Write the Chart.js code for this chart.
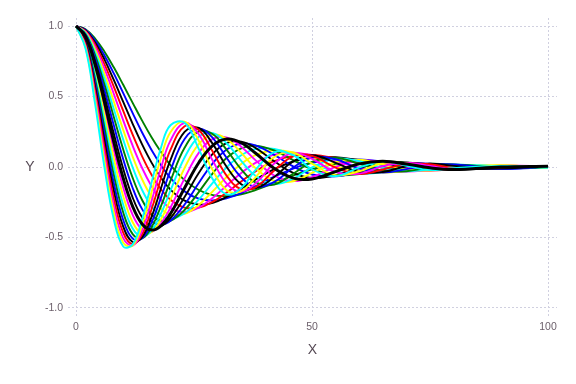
<!DOCTYPE html>
<html><head><meta charset="utf-8">
<script src="https://cdn.jsdelivr.net/npm/chart.js@4.4.1/dist/chart.umd.min.js"></script>
<style>html,body{margin:0;padding:0;background:#fff}#wrap{width:576px;height:384px;position:relative}</style>
</head><body><div id="wrap"><canvas id="c" width="576" height="384"></canvas></div>
<script>
const xs = [0,2,4,6,8,10,12,14,16,18,20,23,26,29,32,35,38,42,46,50,55,60,65,70,75,80,90,100];
const xTicks = [0,50,100];
const yTicks = [-1,-0.5,0,0.5,1];

const c01 = [1,.842,.456,.001,-.371,-.564,-.549,-.371,-.110,.137,.296,.314,.129,-.089,-.195,-.150,-.022,.105,.084,-.016,-.065,-.003,.039,.009,-.022,-.009,.008,-.006];
const c02 = [1,.852,.487,.048,-.325,-.537,-.557,-.413,-.179,.066,.247,.322,.186,-.025,-.166,-.172,-.074,.071,.101,.024,-.058,-.030,.028,.025,-.010,-.018,.011,-.006];
const c03 = [1,.861,.516,.096,-.274,-.504,-.557,-.451,-.242,-.007,.187,.313,.232,.042,-.122,-.175,-.118,.025,.098,.058,-.036,-.047,.006,.031,.007,-.016,.007,-.001];
const c04 = [1,.870,.546,.143,-.222,-.466,-.548,-.478,-.300,-.080,.121,.289,.263,.106,-.066,-.158,-.144,-.025,.076,.079,-.004,-.050,-.018,.023,.020,-.006,-.002,.005];
const c05 = [1,.879,.574,.190,-.169,-.423,-.532,-.497,-.354,-.151,.049,.250,.277,.162,-.003,-.123,-.152,-.071,.040,.083,.030,-.036,-.035,.005,.024,.008,-.010,.007];
const c06 = [1,.887,.602,.237,-.113,-.376,-.508,-.506,-.395,-.217,-.025,.199,.274,.205,.060,-.074,-.140,-.106,-.004,.067,.055,-.011,-.039,-.015,.016,.018,-.011,.003];
const c07 = [1,.896,.629,.283,-.056,-.323,-.476,-.506,-.427,-.277,-.099,.136,.253,.232,.118,-.016,-.109,-.124,-.048,.036,.065,.023,-.026,-.030,-.003,.016,-.004,-.003];
const c08 = [1,.903,.656,.330,.002,-.268,-.437,-.495,-.450,-.330,-.168,.067,.215,.240,.165,.044,-.062,-.121,-.083,-.003,.058,.041,-.007,-.030,-.016,.007,.006,-.007];
const c09 = [1,.911,.681,.375,.061,-.207,-.392,-.475,-.461,-.371,-.232,-.007,.163,.230,.196,.100,-.007,-.099,-.101,-.042,.034,.051,.018,-.018,-.024,-.007,.011,-.005];
const c10 = [1,.918,.706,.420,.120,-.145,-.340,-.444,-.460,-.400,-.289,-.081,.100,.200,.208,.144,.049,-.060,-.100,-.072,.001,.044,.035,.002,-.020,-.017,.009,.001];
const thick = [1,.925,.730,.464,.179,-.080,-.280,-.404,-.447,-.417,-.332,-.149,.030,.154,.199,.172,.099,-.011,-.079,-.085,-.033,.022,.040,.021,-.006,-.018,.000,.006];
const c12 = [1,.932,.753,.506,.238,-.013,-.217,-.356,-.422,-.420,-.363,-.213,-.043,.095,.171,.180,.136,.041,-.042,-.078,-.058,-.007,.029,.031,.011,-.008,-.009,.006];
const c13 = [1,.938,.775,.548,.296,.055,-.149,-.299,-.385,-.409,-.381,-.266,-.114,.028,.126,.166,.154,.086,.004,-.053,-.066,-.034,.007,.027,.023,.006,-.011,.000];
const c14 = [1,.944,.796,.588,.354,.124,-.077,-.234,-.337,-.385,-.382,-.305,-.178,-.043,.067,.133,.151,.117,.049,-.015,-.056,-.050,-.018,.011,.023,.017,-.006,-.006];
const c15 = [1,.950,.816,.627,.411,.194,-.003,-.163,-.279,-.346,-.368,-.328,-.231,-.111,.001,.083,.127,.129,.085,.026,-.031,-.050,-.036,-.010,.011,.018,.004,-.007];
const c16 = [1,.955,.835,.663,.465,.263,.074,-.087,-.212,-.295,-.337,-.333,-.269,-.171,-.067,.022,.084,.119,.104,.063,.005,-.033,-.040,-.027,-.006,.009,.011,-.002];
const c17 = [1,.960,.853,.699,.519,.331,.151,-.007,-.136,-.232,-.292,-.320,-.288,-.218,-.129,-.042,.029,.088,.102,.084,.039,-.004,-.029,-.032,-.021,-.006,.010,.004];
const c18 = [1,.965,.870,.732,.570,.398,.229,.076,-.055,-.158,-.232,-.288,-.288,-.246,-.179,-.103,-.032,.041,.079,.086,.063,.026,-.005,-.023,-.025,-.017,.002,.007];
const c19 = [1,.969,.885,.764,.618,.462,.306,.160,.031,-.076,-.160,-.239,-.267,-.254,-.211,-.153,-.090,-.015,.039,.066,.069,.048,.021,-.003,-.016,-.019,-.008,.004];
const c20 = [1,.973,.900,.793,.664,.524,.382,.245,.121,.013,-.077,-.173,-.225,-.238,-.221,-.185,-.137,-.069,-.011,.030,.054,.054,.039,.019,.002,-.009,-.012,-.003];
const c21 = [1,.977,.913,.820,.707,.583,.455,.329,.211,.106,.014,-.093,-.163,-.200,-.207,-.193,-.164,-.114,-.061,-.016,.023,.041,.042,.033,.019,.006,-.008,-.007];

const thinCurves = [c01,c02,c03,c04,c05,c06,c07,c08,c09,c10,null,c12,c13,c14,c15,c16,c17,c18,c19,c20,c21];
const palette = ['#00ffff','#ffff00','#ff00ff','#ff0000','#000000','#0000ff','#008000'];

const toPts = ys => ys.map((y,i)=>({x:xs[i],y:y}));
const datasets = [{label:'highlight',data:toPts(thick),borderColor:'#000000',borderWidth:3,order:0}];
thinCurves.forEach((c,i)=>{ if(c) datasets.push({label:'c'+i,data:toPts(c),borderColor:palette[i%7],borderWidth:1.9,order:1}); });

const tickColor = '#6c606b';
const tickFont = {family:'"Liberation Sans", Arial, sans-serif', size:10.5};
const gridCfg = {color:'#d0d0e0', drawTicks:false, lineWidth:1};

const axisLabels = {
  id:'axisLabels',
  afterDraw(chart){
    const ctx = chart.ctx, a = chart.chartArea;
    ctx.save();
    ctx.fillStyle = '#564a55';
    ctx.font = '14px "Liberation Sans", Arial, sans-serif';
    ctx.textAlign = 'center';
    ctx.textBaseline = 'middle';
    ctx.fillText('Y', 30, (a.top + a.bottom)/2);
    ctx.fillText('X', (a.left + a.right)/2, 350);
    ctx.restore();
  }
};

new Chart(document.getElementById('c'), {
  type:'line',
  data:{datasets},
  options:{
    responsive:false, animation:false, devicePixelRatio:1,
    layout:{padding:{top:18,right:19,left:0,bottom:0}},
    elements:{point:{radius:0},line:{tension:0.4,fill:false}},
    plugins:{legend:{display:false},tooltip:{enabled:false}},
    scales:{
      x:{type:'linear',min:-1.7,max:101.9,
        afterBuildTicks:s=>{s.ticks = xTicks.map(v=>({value:v}));},
        afterFit:s=>{s.height = 68;},
        ticks:{color:tickColor,font:tickFont,padding:5,autoSkip:false,maxRotation:0,callback:v=>String(v)},
        grid:gridCfg, border:{display:false,dash:[2,2]}},
      y:{type:'linear',min:-1.057,max:1.057,
        afterBuildTicks:s=>{s.ticks = yTicks.map(v=>({value:v}));},
        afterFit:s=>{s.width = 68;},
        ticks:{color:tickColor,font:tickFont,padding:5,autoSkip:false,callback:v=>Number(v).toFixed(1)},
        grid:gridCfg, border:{display:false,dash:[2,2]}}
    }
  },
  plugins:[axisLabels]
});
</script></body></html>
